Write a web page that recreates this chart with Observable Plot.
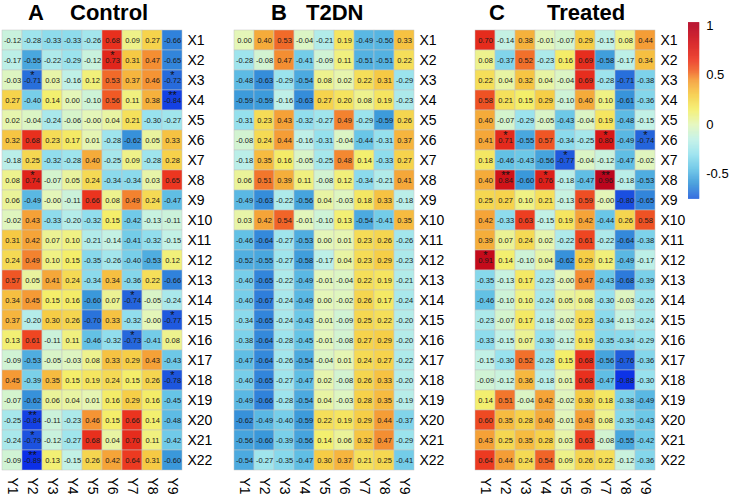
<!DOCTYPE html>
<html><head><meta charset="utf-8">
<script src="https://cdn.jsdelivr.net/npm/d3@7"></script>
<script src="https://cdn.jsdelivr.net/npm/@observablehq/plot@0.6"></script>
<style>
body{margin:0;background:#fff;}
#wrap{position:relative;width:730px;height:494px;overflow:hidden;font-family:"Liberation Sans",Arial,sans-serif;}
.panel{position:absolute;top:0;}
.ttl{position:absolute;font-family:"Liberation Sans",Arial,sans-serif;font-weight:bold;font-size:22px;line-height:24px;top:1px;color:#000;white-space:nowrap;}
</style></head>
<body><div id="wrap"></div>
<script>
const rowLabels = ["X1","X2","X3","X4","X5","X6","X7","X8","X9","X10","X11","X12","X13","X14","X15","X16","X17","X18","X19","X20","X21","X22"];
const colLabels = ["Y1","Y2","Y3","Y4","Y5","Y6","Y7","Y8","Y9"];
const panelLetters = ["A","B","C"];
const panelNames = ["Control","T2DN","Treated"];
const colorbarTicks = [-0.5, 0, 0.5, 1];

const controlValues = [
[-0.12,-0.28,-0.33,-0.33,-0.26,0.68,0.09,0.27,-0.66],
[-0.17,-0.55,-0.22,-0.29,-0.12,0.73,0.31,0.47,-0.65],
[-0.03,-0.71,0.03,-0.16,0.12,0.53,0.37,0.46,-0.72],
[0.27,-0.40,0.14,0.00,-0.10,0.56,0.11,0.38,-0.84],
[0.02,-0.04,-0.24,-0.06,-0.00,0.04,0.21,-0.30,-0.27],
[0.32,0.68,0.23,0.17,0.01,-0.28,-0.62,0.05,0.33],
[-0.18,0.25,-0.32,-0.28,0.40,-0.25,0.09,-0.28,0.28],
[0.08,0.74,-0.07,0.05,0.24,-0.34,-0.34,0.03,0.65],
[0.06,-0.49,-0.00,-0.11,0.66,0.08,0.49,0.24,-0.47],
[-0.02,0.43,-0.33,-0.20,-0.32,0.15,-0.42,-0.13,-0.11],
[0.31,0.42,0.07,0.10,-0.21,-0.14,-0.41,-0.32,-0.15],
[0.24,0.49,0.10,0.15,-0.35,-0.26,-0.40,-0.53,0.12],
[0.57,0.05,0.41,0.24,-0.34,0.34,-0.36,0.22,-0.66],
[0.34,0.45,0.15,0.16,-0.60,0.07,-0.74,-0.05,-0.24],
[0.37,-0.20,0.30,0.26,-0.70,0.33,-0.32,-0.00,-0.77],
[0.13,0.61,-0.11,0.11,-0.46,-0.32,-0.73,-0.41,0.08],
[-0.09,-0.53,-0.05,-0.03,0.08,0.33,0.29,0.43,-0.43],
[0.45,-0.39,0.35,0.15,0.19,0.24,0.15,0.26,-0.78],
[-0.07,-0.62,0.06,0.04,0.01,0.16,0.29,0.16,-0.45],
[-0.25,-0.84,-0.11,-0.23,0.46,0.15,0.66,0.14,-0.48],
[-0.24,-0.79,-0.12,-0.27,0.68,0.04,0.70,0.11,-0.42],
[-0.09,-0.89,0.13,-0.15,0.26,0.42,0.64,0.31,-0.60]
];
const t2dnValues = [
[0.00,0.40,0.53,-0.04,-0.21,0.19,-0.49,-0.50,0.33],
[-0.28,-0.08,0.47,-0.41,-0.09,0.11,-0.51,-0.51,0.22],
[-0.48,-0.63,-0.29,-0.54,0.08,0.02,0.22,0.31,-0.29],
[-0.59,-0.59,-0.16,-0.63,0.27,0.20,0.08,0.19,-0.23],
[-0.31,0.23,0.43,-0.32,-0.27,0.49,-0.29,-0.59,0.26],
[-0.08,0.24,0.44,-0.16,-0.31,-0.04,-0.44,-0.31,0.37],
[-0.18,0.35,0.16,-0.05,-0.25,0.48,0.14,-0.33,0.27],
[0.06,0.51,0.39,0.11,-0.08,0.12,-0.34,-0.21,0.41],
[-0.49,-0.63,-0.22,-0.56,0.04,-0.03,0.18,0.33,-0.18],
[0.03,0.42,0.54,-0.01,-0.10,0.13,-0.54,-0.41,0.35],
[-0.46,-0.64,-0.27,-0.53,0.00,0.01,0.23,0.26,-0.26],
[-0.52,-0.55,-0.27,-0.58,-0.17,0.04,0.23,0.29,-0.23],
[-0.40,-0.65,-0.22,-0.49,-0.01,-0.04,0.22,0.19,-0.21],
[-0.40,-0.67,-0.24,-0.49,0.00,-0.02,0.26,0.17,-0.24],
[-0.34,-0.65,-0.24,-0.43,-0.01,-0.09,0.25,0.22,-0.20],
[-0.38,-0.64,-0.28,-0.45,-0.01,-0.08,0.27,0.29,-0.20],
[-0.47,-0.64,-0.26,-0.54,-0.04,0.01,0.24,0.27,-0.22],
[-0.40,-0.65,-0.27,-0.47,0.02,-0.08,0.26,0.33,-0.20],
[-0.49,-0.66,-0.28,-0.54,0.04,-0.03,0.28,0.35,-0.19],
[-0.62,-0.49,-0.40,-0.59,0.22,0.19,0.29,0.44,-0.37],
[-0.56,-0.60,-0.39,-0.56,0.14,0.06,0.32,0.47,-0.29],
[-0.54,-0.27,-0.35,-0.47,0.30,0.37,0.21,0.25,-0.41]
];
const treatedValues = [
[0.70,-0.14,0.38,-0.01,-0.07,0.29,-0.15,0.08,0.44],
[0.08,-0.37,0.52,-0.23,0.16,0.69,-0.58,-0.17,0.34],
[0.22,0.04,0.32,0.04,-0.04,0.69,-0.28,-0.71,-0.38],
[0.58,0.21,0.15,0.29,-0.10,0.40,0.10,-0.61,-0.36],
[0.40,-0.07,-0.29,-0.05,-0.43,-0.04,0.19,-0.48,-0.15],
[0.41,0.71,-0.55,0.57,-0.34,-0.25,0.80,-0.49,-0.74],
[0.18,-0.46,-0.43,-0.56,-0.77,-0.04,-0.12,-0.47,-0.02],
[0.40,0.84,-0.60,0.76,-0.18,-0.47,0.96,-0.18,-0.53],
[0.25,0.27,0.10,0.21,-0.13,0.59,-0.00,-0.80,-0.65],
[0.42,-0.33,0.63,-0.15,0.19,0.42,-0.44,0.26,0.58],
[0.39,0.07,0.24,0.02,-0.22,0.61,-0.22,-0.64,-0.38],
[0.91,0.14,-0.10,0.04,-0.62,0.29,0.12,-0.49,-0.17],
[-0.35,-0.13,0.17,-0.23,-0.00,0.47,-0.43,-0.68,-0.39],
[-0.46,-0.10,0.10,-0.24,0.05,0.08,-0.30,-0.03,-0.26],
[-0.23,-0.07,0.17,-0.18,-0.02,0.23,-0.34,-0.13,-0.24],
[-0.33,-0.15,0.07,-0.30,-0.12,0.19,-0.35,-0.34,-0.29],
[-0.15,-0.30,0.52,-0.28,0.15,0.68,-0.56,-0.76,-0.36],
[-0.09,-0.12,0.36,-0.18,0.01,0.68,-0.47,-0.88,-0.30],
[0.14,0.51,-0.04,0.42,-0.02,0.30,0.18,-0.38,-0.49],
[0.60,0.35,0.28,0.40,-0.01,0.43,0.08,-0.35,-0.43],
[0.43,0.25,0.35,0.28,0.03,0.63,-0.08,-0.55,-0.42],
[0.64,0.44,0.24,0.54,0.09,0.26,0.22,-0.12,-0.36]
];
const controlStars = [["X2","Y6","*"],["X3","Y2","*"],["X3","Y9","*"],["X4","Y9","**"],["X8","Y2","*"],["X14","Y7","*"],["X15","Y9","*"],["X16","Y7","*"],["X18","Y9","*"],["X20","Y2","**"],["X21","Y2","*"],["X22","Y2","**"]];
const t2dnStars = [];
const treatedStars = [["X6","Y2","*"],["X6","Y7","*"],["X6","Y9","*"],["X7","Y5","*"],["X8","Y2","**"],["X8","Y4","*"],["X8","Y7","**"],["X12","Y1","*"]];

const colorOpts = {
  type: "linear",
  domain: [-0.9,-0.75,-0.6,-0.45,-0.3,-0.15,0,0.15,0.3,0.45,0.55,0.65,0.8,1.0],
  range: ["#0a2ce8","#2260dc","#3a98da","#66c4e6","#98e2ee","#c2f1e6","#e4f6b8","#f4ee6a","#f6cc45","#f59a35","#f05e26","#ec3620","#d81818","#b4001e"],
  clamp: true
};
const fmt = v => Object.is(v, -0) ? "-0.00" : v.toFixed(2);
const wrap = document.getElementById("wrap");
const panelLeft = [0, 232, 473];
const titlePos = [[28,70],[271,306],[489,547]];

function heat(values, stars) {
  const data = [];
  values.forEach((row, i) => row.forEach((v, j) => data.push({r: rowLabels[i], c: colLabels[j], v})));
  return Plot.plot({
    width: 232, height: 494,
    marginLeft: 0, marginRight: 49, marginTop: 27.5, marginBottom: 22,
    x: {domain: colLabels, padding: 0, label: null},
    y: {domain: rowLabels, padding: 0, label: null},
    color: colorOpts,
    style: {fontFamily: "'Liberation Sans', Arial, sans-serif", background: "transparent", color: "#000"},
    marks: [
      Plot.cell(data, {x: "c", y: "r", fill: "v", stroke: "#c4c4c4", strokeWidth: 0.5}),
      Plot.text(data, {x: "c", y: "r", text: d => fmt(d.v), fontSize: 7.5, fill: "#1a1a1a"}),
      Plot.text(stars, {x: d => d[1], y: d => d[0], text: d => d[2], fontSize: 11, dy: -5.5, fill: "#111"}),
      Plot.axisY({anchor: "right", tickSize: 0, tickPadding: 4, fontSize: 14, label: null}),
      Plot.axisX({anchor: "bottom", tickSize: 0, tickPadding: 5, tickRotate: 90, fontSize: 14, label: null})
    ]
  });
}

const allValues = [controlValues, t2dnValues, treatedValues];
const allStars = [controlStars, t2dnStars, treatedStars];
allValues.forEach((vals, k) => {
  const div = document.createElement("div");
  div.className = "panel";
  div.style.left = panelLeft[k] + "px";
  div.appendChild(heat(vals, allStars[k]));
  wrap.appendChild(div);
  const a = document.createElement("div");
  a.className = "ttl"; a.textContent = panelLetters[k]; a.style.left = titlePos[k][0] + "px";
  wrap.appendChild(a);
  const b = document.createElement("div");
  b.className = "ttl"; b.textContent = panelNames[k]; b.style.left = titlePos[k][1] + "px";
  wrap.appendChild(b);
});

// colour bar
const step = 0.005;
const steps = d3.range(-0.755, 1.03, step);
const cb = Plot.plot({
  width: 45, height: 230,
  marginLeft: 0, marginRight: 33, marginTop: 24, marginBottom: 17,
  x: {domain: [0, 1], axis: null},
  y: {domain: [-0.755, 1.03], label: null},
  color: colorOpts,
  style: {fontFamily: "'Liberation Sans', Arial, sans-serif", background: "transparent", color: "#000"},
  marks: [
    Plot.rect(steps, {x1: 0, x2: 1, y1: d => d, y2: d => d + step * 1.5, fill: d => d + step / 2}),
    Plot.axisY(colorbarTicks, {anchor: "right", tickSize: 0, tickPadding: 7, fontSize: 14, tickFormat: d => String(d), label: null})
  ]
});
const cbDiv = document.createElement("div");
cbDiv.className = "panel";
cbDiv.style.left = "688px";
cbDiv.appendChild(cb);
wrap.appendChild(cbDiv);
</script>
</body></html>
